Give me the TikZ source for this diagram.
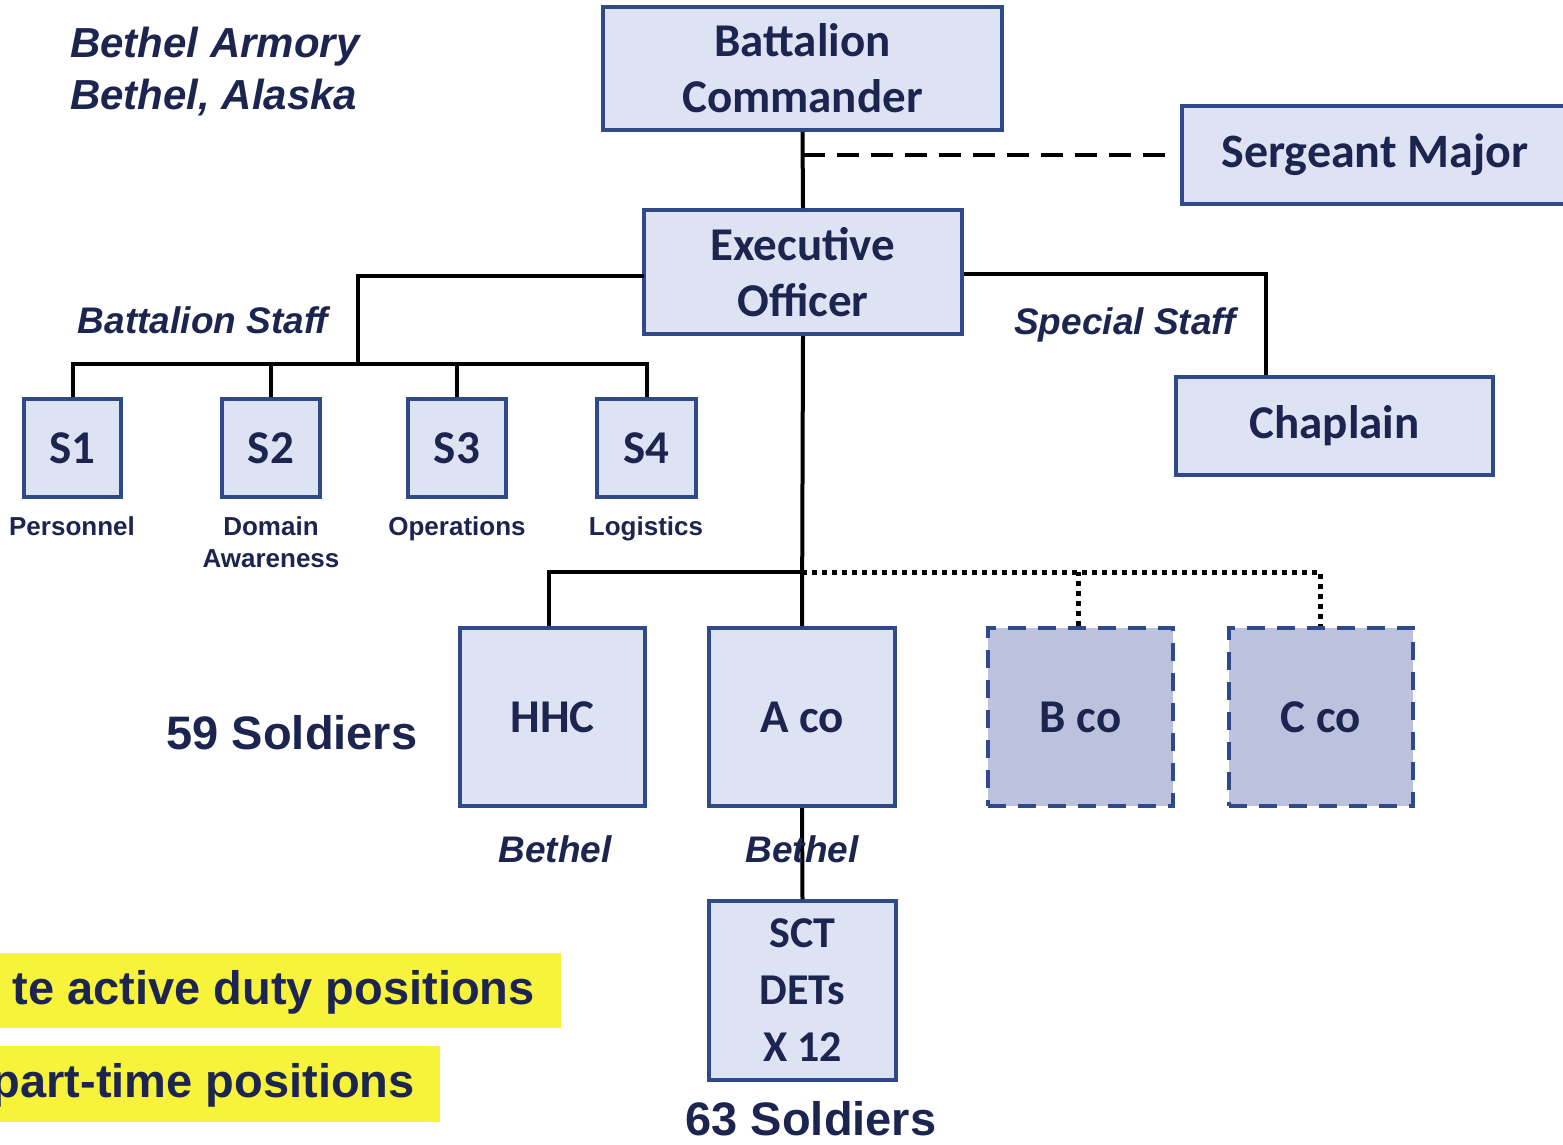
\documentclass[tikz,border=0pt]{standalone}
\usepackage{fontspec}
\setmainfont{Carlito}
\newfontfamily\arial{Liberation Sans}
\usetikzlibrary{calc}
\definecolor{navy}{HTML}{1C2550}
\definecolor{boxline}{HTML}{2F4A88}
\definecolor{boxfill}{HTML}{DEE3F4}
\definecolor{plannedfill}{HTML}{BCC2DE}
\definecolor{hl}{HTML}{F7F23A}
\tikzset{
  unit box/.style={draw=boxline, line width=4pt, fill=boxfill, text=navy, font=\bfseries\fontsize{47}{56}\selectfont, align=center, inner sep=0pt},
  planned box/.style={unit box, fill=plannedfill, dash pattern=on 18pt off 12pt},
  conn/.style={draw=black, line width=4pt},
  dashconn/.style={draw=black, line width=4pt, dash pattern=on 22pt off 12pt},
  dotconn/.style={draw=black, line width=5pt, dash pattern=on 5pt off 5pt},
  caption/.style={text=navy, font=\arial\bfseries\fontsize{26}{32}\selectfont, align=center, inner sep=0pt},
  italiclabel/.style={text=navy, font=\arial\bfseries\itshape\fontsize{37}{44}\selectfont, inner sep=0pt},
  bigcount/.style={text=navy, font=\arial\bfseries\fontsize{47}{52}\selectfont, inner sep=0pt},
  legend/.style={text=navy, font=\arial\bfseries\fontsize{47}{52}\selectfont, inner sep=0pt}
}
\begin{document}
\begin{tikzpicture}[x=1pt,y=-1pt]
\useasboundingbox[fill=white] (0,0) rectangle (1563,1144);

% title
\node[text=navy, font=\arial\bfseries\itshape\fontsize{42}{52}\selectfont, align=left, anchor=north west, inner sep=0pt] (title) at (70,27) {Bethel Armory\\Bethel, Alaska};

% command boxes
\node[unit box, minimum width=399pt, minimum height=123pt] (bc) at (802.5,68.5) {Battalion\\Commander};
\node[unit box, minimum width=400pt, minimum height=98pt, anchor=west, font=\bfseries\fontsize{48}{56}\selectfont] (sgm) at (1180,155) {\hspace*{-14pt}Sergeant Major};
\node[unit box, minimum width=318pt, minimum height=124pt] (xo) at (803,272) {Executive\\Officer};
\node[unit box, minimum width=317pt, minimum height=98pt] (chap) at (1334.5,426) {Chaplain};

% staff boxes
\node[unit box, minimum width=97pt, minimum height=98pt] (s1) at (72.5,448) {S1};
\node[unit box, minimum width=98pt, minimum height=98pt] (s2) at (271,448) {S2};
\node[unit box, minimum width=98pt, minimum height=98pt] (s3) at (457,448) {S3};
\node[unit box, minimum width=99pt, minimum height=98pt] (s4) at (646.5,448) {S4};

\node[caption, anchor=north] (c1) at (72,516) {Personnel};
\node[caption, anchor=north] (c2) at (271,516) {Domain\\Awareness};
\node[caption, anchor=north] (c3) at (457,516) {Operations};
\node[caption, anchor=north] (c4) at (646,516) {Logistics};

\node[italiclabel] (bstaff) at (203,320) {Battalion Staff};
\node[italiclabel] (sstaff) at (1125,325) {Special Staff};

% companies
\node[unit box, minimum width=185pt, minimum height=178pt] (hhc) at (552.5,717) {HHC};
\node[unit box, minimum width=186pt, minimum height=178pt] (aco) at (802,717) {A co};
\node[planned box, minimum width=185pt, minimum height=178pt] (bco) at (1080.5,717) {B co};
\node[planned box, minimum width=184pt, minimum height=178pt] (cco) at (1321,717) {C co};
\node[unit box, minimum width=187pt, minimum height=179pt, font=\bfseries\fontsize{44}{57}\selectfont] (sct) at (802.5,990.5) {SCT\\DETs\\X 12};

\node[bigcount] (n59) at (292,733) {59 Soldiers};
\node[bigcount] (n63) at (811,1119) {63 Soldiers};

% legend
\fill[hl] (0,953) rectangle (561,1028);
\node[legend, anchor=east] (lg1) at (535,992) {te active duty positions};
\fill[hl] (0,1046) rectangle (440,1122);
\node[legend, anchor=east] (lg2) at (415,1085) {part-time positions};

% connectors
\draw[conn] (bc.south) -- (xo.north);
\draw[dashconn] (bc.south |- sgm.west) -- ([xshift=-15pt]sgm.west);

\coordinate (bsj) at (358,364);
\coordinate (xol) at (644,276);
\draw[conn] (xol) -| (bsj);
\draw[conn] (s1.north) |- (s4.north |- bsj) -- (s4.north);
\draw[conn] (s2.north) -- (s2.north |- bsj);
\draw[conn] (s3.north) -- (s3.north |- bsj);

\coordinate (cj) at (1266,274);
\draw[conn] (xo.east |- cj) -- (cj) -- (cj |- chap.north);

\draw[conn] (xo.south) -- (aco.north);
\coordinate (cbar) at (802,572);
\coordinate (hj) at (549,572);
\draw[conn] (cbar) -- (hj) -- (hj |- hhc.north);
\draw[dotconn] (cbar) -| ([xshift=-1pt]cco.north);
\draw[dotconn] ([xshift=-2pt]bco.north) -- ([xshift=-2pt]bco.north |- cbar);

\draw[conn] (aco.south) -- (sct.north);

\node[italiclabel] (bth1) at (555,849) {Bethel};
\node[italiclabel] (bth2) at (802,849) {Bethel};
\end{tikzpicture}
\end{document}
